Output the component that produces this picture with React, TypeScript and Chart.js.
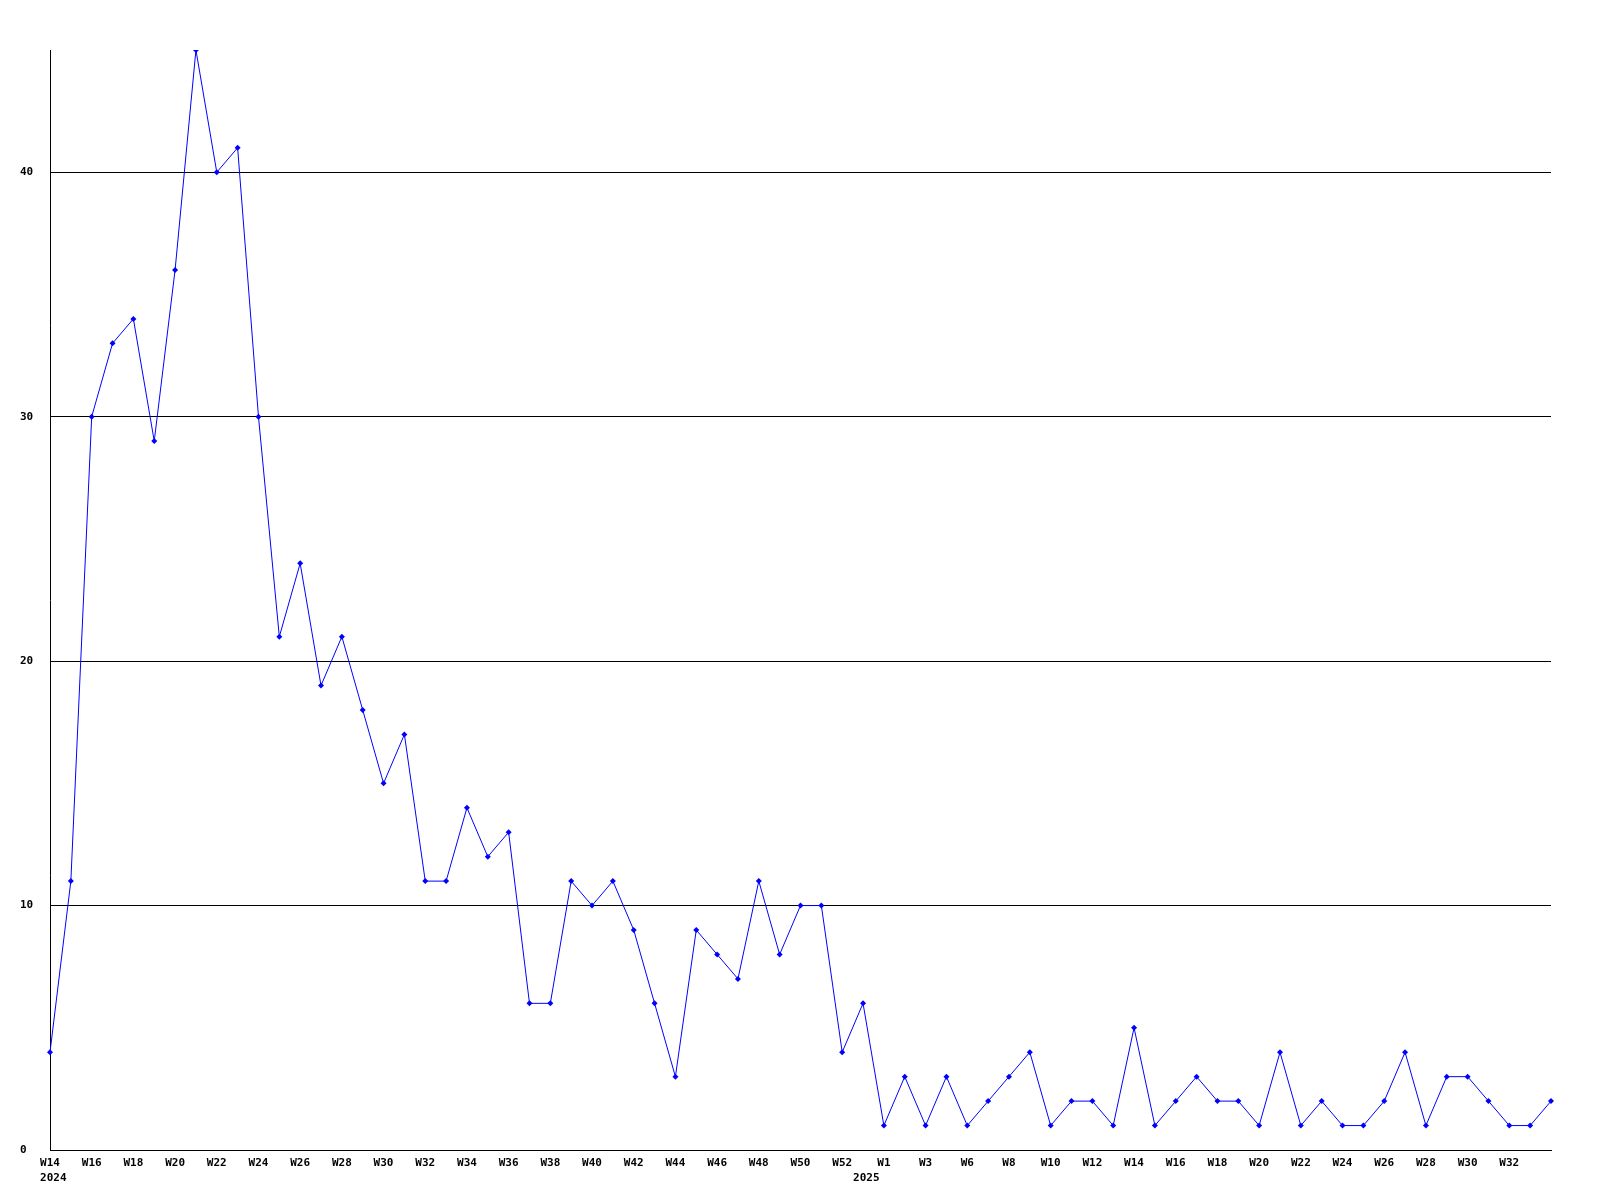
import React, { useEffect, useRef } from "react";
import { Chart, registerables } from "chart.js";

Chart.register(...registerables);

const weeks: string[] = [
  "W14", "W15", "W16", "W17", "W18", "W19", "W20", "W21", "W22", "W23",
  "W24", "W25", "W26", "W27", "W28", "W29", "W30", "W31", "W32", "W33",
  "W34", "W35", "W36", "W37", "W38", "W39", "W40", "W41", "W42", "W43",
  "W44", "W45", "W46", "W47", "W48", "W49", "W50", "W51", "W52", "W53",
  "W1", "W2", "W3", "W4", "W6", "W7", "W8", "W9", "W10", "W11",
  "W12", "W13", "W14", "W15", "W16", "W17", "W18", "W19", "W20", "W21",
  "W22", "W23", "W24", "W25", "W26", "W27", "W28", "W29", "W30", "W31",
  "W32", "W33", "W34",
];

const counts: number[] = [
  4, 11, 30, 33, 34, 29, 36, 45, 40, 41,
  30, 21, 24, 19, 21, 18, 15, 17, 11, 11,
  14, 12, 13, 6, 6, 11, 10, 11, 9, 6,
  3, 9, 8, 7, 11, 8, 10, 10, 4, 6,
  1, 3, 1, 3, 1, 2, 3, 4, 1, 2,
  2, 1, 5, 1, 2, 3, 2, 2, 1, 4,
  1, 2, 1, 1, 2, 4, 1, 3, 3, 2,
  1, 1, 2,
];

// index of the week where each year's label is shown
const yearMarks: { index: number; year: string }[] = [
  { index: 0, year: "2024" },
  { index: 39, year: "2025" },
];

const yTicks: number[] = [0, 10, 20, 30, 40];

export default function App() {
  const ref = useRef<HTMLCanvasElement>(null);

  useEffect(() => {
    if (!ref.current) return;
    const font = { family: "'DejaVu Sans Mono', monospace", size: 11, weight: "bold" as const, lineHeight: "15px" };
    const chart = new Chart(ref.current, {
      type: "line",
      data: {
        labels: weeks,
        datasets: [
          {
            data: counts,
            borderColor: "#0000ff",
            backgroundColor: "#0000ff",
            borderWidth: 1,
            pointStyle: "rectRot",
            pointRadius: 3,
            pointBorderWidth: 0,
            tension: 0,
            fill: false,
          },
        ],
      },
      options: {
        responsive: false,
        animation: false,
        layout: { padding: { left: 20, top: 50, right: 49, bottom: 0 } },
        plugins: { legend: { display: false }, tooltip: { enabled: false } },
        scales: {
          x: {
            type: "category",
            offset: false,
            grid: { display: false, drawTicks: false },
            border: { display: true, color: "#000000", width: 1 },
            afterFit: (s: any) => { s.height = 50; },
            ticks: {
              autoSkip: false,
              maxRotation: 0,
              minRotation: 0,
              padding: 6,
              color: "#000000",
              font,
              callback: (_v: any, i: number) => {
                const ym = yearMarks.find((m) => m.index === i);
                const w = i % 2 === 0 && i < weeks.length - 1 ? weeks[i] : "";
                if (ym) return [w, " " + ym.year];
                return w;
              },
            },
          },
          y: {
            min: 0,
            max: Math.max(...counts),
            grid: { display: true, color: "#000000", lineWidth: 1, drawTicks: false },
            border: { display: true, color: "#000000", width: 1 },
            afterFit: (s: any) => { s.width = 30; },
            afterBuildTicks: (s: any) => { s.ticks = yTicks.map((v) => ({ value: v })); },
            ticks: {
              crossAlign: "far",
              padding: 0,
              color: "#000000",
              font,
            },
          },
        },
      },
    });
    return () => chart.destroy();
  }, []);

  return (
    <div style={{ position: "absolute", left: 0, top: 0, width: 1600, height: 1200, background: "#ffffff" }}>
      <canvas ref={ref} width={1600} height={1200} style={{ width: 1600, height: 1200 }} />
    </div>
  );
}
